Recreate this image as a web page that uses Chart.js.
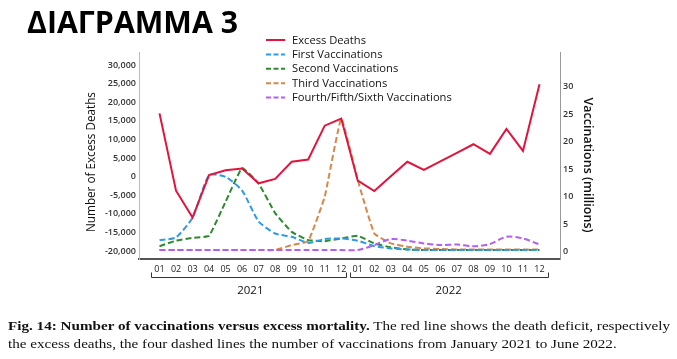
<!DOCTYPE html>
<html><head><meta charset="utf-8">
<script src="https://cdn.jsdelivr.net/npm/chart.js@4.4.1/dist/chart.umd.min.js"></script>
<style>
html,body{margin:0;padding:0;background:#fff;}
#wrap{position:relative;width:677px;height:359px;overflow:hidden;background:#fff;}
#c{position:absolute;left:0;top:0;}
#title{position:absolute;left:27px;top:7px;font-family:"Open Sans";font-weight:700;font-size:30px;line-height:1;white-space:nowrap;color:#000;transform-origin:0 0;}
#cap{position:absolute;left:8px;top:317px;font-family:"Liberation Serif";font-size:13px;line-height:17.5px;color:#111;white-space:nowrap;transform-origin:0 0;}
</style></head>
<body><div id="wrap"><canvas id="c" width="677" height="359"></canvas>
<div id="title">ΔΙΑΓΡΑΜΜΑ 3</div>
<div id="cap"><div id="l1"><b>Fig. 14: Number of vaccinations versus excess mortality.</b> The red line shows the death deficit, respectively</div><div id="l2">the excess deaths, the four dashed lines the number of vaccinations from January 2021 to June 2022.</div></div>
</div>
<script>
// ---- data ----
const months = ['01','02','03','04','05','06','07','08','09','10','11','12','01','02','03','04','05','06','07','08','09','10','11','12'];
const years = ['2021','2022'];
const excessDeaths = [17000,-3800,-11000,400,1700,2200,-1800,-600,4000,4600,13700,15600,-1100,-3900,100,4000,1800,4100,6400,8700,6100,12800,6900,24800];
const firstVacc  = [2.1,2.6,6.2,13.9,13.6,11.1,5.5,3.3,2.7,1.6,2.3,2.4,2.0,1.0,0.6,0.4,0.3,0.3,0.3,0.3,0.3,0.3,0.3,0.3];
const secondVacc = [1.0,2.0,2.5,2.9,9.1,15.2,12.4,7.0,3.6,2.1,1.9,2.4,2.9,1.5,0.8,0.4,0.3,0.3,0.3,0.3,0.3,0.3,0.3,0.3];
const thirdVacc  = [0.3,0.3,0.3,0.3,0.3,0.3,0.3,0.3,1.2,1.9,10.0,24.2,13.0,3.3,1.5,0.9,0.6,0.5,0.4,0.4,0.4,0.4,0.4,0.4];
const fourthVacc = [0.3,0.3,0.3,0.3,0.3,0.3,0.3,0.3,0.3,0.3,0.3,0.3,0.3,1.2,2.3,2.0,1.5,1.2,1.3,1.0,1.4,2.7,2.4,1.3];
const leftTicks  = [-20000,-15000,-10000,-5000,0,5000,10000,15000,20000,25000,30000];
const rightTicks = [0,5,10,15,20,25,30];
const leftTitle = 'Number of Excess Deaths';
const rightTitle = 'Vaccinations (millions)';

const pts = arr => arr.map((v,i)=>({x:i,y:v}));

function fitSize(ctx, text, weight, family, target){
  ctx.font = weight+' 20px "'+family+'"';
  return 20*target/ctx.measureText(text).width;
}

const decor = {
  id:'decor',
  afterDraw(chart){
    const ctx = chart.ctx, xs = chart.scales.x;
    ctx.save();
    // legend
    const ds = chart.data.datasets;
    const lfs = fitSize(ctx, ds[4].label, '500', 'Open Sans', 160);
    ds.forEach((d,i)=>{
      const y = 40 + i*14.4;
      ctx.strokeStyle = d.borderColor; ctx.lineWidth = 2;
      ctx.setLineDash(i===0?[]:[5,2.5]);
      ctx.beginPath(); ctx.moveTo(266,y); ctx.lineTo(285,y); ctx.stroke();
      ctx.setLineDash([]);
      ctx.fillStyle = '#111'; ctx.font = '500 '+lfs+'px "Open Sans"';
      ctx.textAlign='left'; ctx.textBaseline='middle';
      ctx.fillText(d.label, 292, y+0.5);
    });
    // axis titles
    ctx.fillStyle = '#111';
    let fs = fitSize(ctx, leftTitle, '400', 'Open Sans', 140);
    ctx.font = '400 '+fs+'px "Open Sans"';
    ctx.textAlign='center'; ctx.textBaseline='middle';
    ctx.save(); ctx.translate(92,162); ctx.rotate(-Math.PI/2); ctx.fillText(leftTitle,0,0); ctx.restore();
    fs = fitSize(ctx, rightTitle, '600', 'Open Sans', 135);
    ctx.font = '600 '+fs+'px "Open Sans"';
    ctx.save(); ctx.translate(588,165); ctx.rotate(Math.PI/2); ctx.fillText(rightTitle,0,0); ctx.restore();
    // year brackets
    ctx.strokeStyle = '#333'; ctx.lineWidth = 1;
    const by = 277.5;
    const spans = [[xs.getPixelForValue(-0.5), xs.getPixelForValue(11.5)-4],[xs.getPixelForValue(11.5), xs.getPixelForValue(23.5)]];
    spans.forEach(([a,b],k)=>{
      ctx.beginPath();
      ctx.moveTo(Math.round(a)+0.5, by-5); ctx.lineTo(Math.round(a)+0.5, by); ctx.lineTo(Math.round(b)+0.5, by); ctx.lineTo(Math.round(b)+0.5, by-5);
      ctx.stroke();
      ctx.fillStyle = '#111'; ctx.font = '400 11.5px "Open Sans"';
      ctx.textAlign='center'; ctx.textBaseline='middle';
      ctx.fillText(years[k], xs.getPixelForValue(5.5+12*k), 291);
    });
    ctx.restore();
  }
};

const dash = [6,3];
new Chart(document.getElementById('c'), {
  type:'line',
  data:{
    datasets:[
      {label:'Excess Deaths', data:pts(excessDeaths), yAxisID:'y', borderColor:'#e0143f', borderWidth:2, tension:0, pointRadius:0},
      {label:'First Vaccinations', data:pts(firstVacc), yAxisID:'y1', borderColor:'#2f9be6', borderWidth:2, borderDash:dash, tension:0.2, pointRadius:0},
      {label:'Second Vaccinations', data:pts(secondVacc), yAxisID:'y1', borderColor:'#2e8a2e', borderWidth:2, borderDash:dash, tension:0.1, pointRadius:0},
      {label:'Third Vaccinations', data:pts(thirdVacc), yAxisID:'y1', borderColor:'#d4894a', borderWidth:2, borderDash:dash, tension:0.1, pointRadius:0},
      {label:'Fourth/Fifth/Sixth Vaccinations', data:pts(fourthVacc), yAxisID:'y1', borderColor:'#b45ef2', borderWidth:2, borderDash:dash, tension:0.3, pointRadius:0, order:-1}
    ]
  },
  options:{
    responsive:false, animation:false, devicePixelRatio:1,
    layout:{padding:{top:52,left:0,right:0,bottom:0}},
    plugins:{legend:{display:false}, tooltip:{enabled:false}, title:{display:false}},
    scales:{
      x:{type:'linear', min:-1.241, max:24.241,
        afterBuildTicks(s){ s.ticks = months.map((m,i)=>({value:i})); },
        afterFit(s){ s.height = 100; },
        ticks:{callback:(v)=>months[v], font:{family:'Open Sans', size:9}, color:'#222', padding:5, maxRotation:0, autoSkip:false},
        grid:{display:false, drawTicks:false},
        border:{color:'#555', width:2}
      },
      y:{position:'left', min:-22150, max:33500,
        afterBuildTicks(s){ s.ticks = leftTicks.map(v=>({value:v})); },
        afterFit(s){ s.width = 139; },
        ticks:{callback:v=>v.toLocaleString('en-US'), font:{family:'Open Sans', size:9, weight:'600'}, color:'#333', padding:3},
        grid:{display:false, drawTicks:false},
        border:{color:'#bbb', width:1}
      },
      y1:{position:'right', min:-1.33, max:36.3,
        afterBuildTicks(s){ s.ticks = rightTicks.map(v=>({value:v})); },
        afterFit(s){ s.width = 117; },
        ticks:{font:{family:'Open Sans', size:9, weight:'600'}, color:'#333', padding:3},
        grid:{display:false, drawTicks:false},
        border:{color:'#999', width:1}
      }
    }
  },
  plugins:[decor]
});

// fit caption and title widths
const l1 = document.getElementById('l1');
const cap = document.getElementById('cap');
cap.style.transform = 'scaleX(' + (662 / l1.getBoundingClientRect().width) + ')';
const tt = document.getElementById('title');
const tw = tt.getBoundingClientRect().width;
tt.style.transform = 'scaleX(' + (211 / tw) + ')';
</script>
</body></html>
